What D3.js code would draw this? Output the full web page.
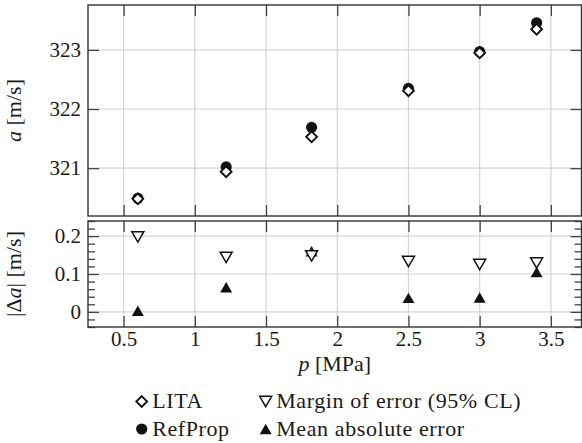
<!DOCTYPE html>
<html>
<head>
<meta charset="utf-8">
<script src="https://cdn.jsdelivr.net/npm/d3@7"></script>
</head>
<body style="margin:0">
<svg id="chart" width="582" height="443" style="font-family:'Liberation Serif'"></svg>
<script>
// values
var pressure = [0.6, 1.22, 1.82, 2.5, 3.0, 3.4];
var lita = [320.48, 320.94, 321.53, 322.31, 322.95, 323.35];
var refprop = [320.49, 321.02, 321.69, 322.35, 322.97, 323.46];
var marginErr = [0.198, 0.144, 0.148, 0.133, 0.125, 0.129];
var meanAbsErr = [0.003, 0.065, 0.16, 0.037, 0.038, 0.105];
var xTicks = [0.5, 1, 1.5, 2, 2.5, 3, 3.5];
var xTickLabels = ["0.5", "1", "1.5", "2", "2.5", "3", "3.5"];
var topTicks = [321, 322, 323];
var bottomTicks = [0, 0.1, 0.2];
var bottomTickLabels = ["0", "0.1", "0.2"];
var bottomMinor = [-0.04, -0.02, 0.02, 0.04, 0.06, 0.08, 0.12, 0.14, 0.16, 0.18, 0.22, 0.24];
var legendLabels = ["LITA", "Margin of error (95% CL)", "RefProp", "Mean absolute error"];

var FONT = "font-family:'Liberation Serif';";
var left = 88, right = 581.5,
    topY0 = 5, topY1 = 216,
    botY0 = 221, botY1 = 327;

var svg = d3.select("#chart");

var x = d3.scaleLinear().domain([0.25, 3.715]).range([left, right]);
var yTop = d3.scaleLinear().domain([320.19, 323.76]).range([topY1, topY0]);
var yBot = d3.scaleLinear().domain([-0.04, 0.24]).range([botY1, botY0]);

function styleAxis(g) {
    g.attr("font-family", null).attr("font-size", null);
    g.select(".domain").remove();
    g.selectAll(".tick line").attr("stroke", "#444").attr("stroke-width", 1.3);
    g.selectAll(".tick text")
        .attr("style", FONT + "font-size:21px")
        .attr("fill", "#1a1a1a");
}

// panel: grid, ticks, frame
function panel(y, y0, y1, yMajor, yLabels, yMinor) {
    var grid = svg.append("g").attr("stroke", "#d4d4d4").attr("stroke-width", 1.2);
    grid.selectAll(".gx").data(xTicks).enter().append("line")
        .attr("x1", function (d) { return x(d); })
        .attr("x2", function (d) { return x(d); })
        .attr("y1", y0).attr("y2", y1);
    grid.selectAll(".gy").data(yMajor).enter().append("line")
        .attr("x1", left).attr("x2", right)
        .attr("y1", function (d) { return y(d); })
        .attr("y2", function (d) { return y(d); });

    svg.append("g").attr("transform", "translate(0," + y0 + ")")
        .call(d3.axisTop(x).tickValues(xTicks).tickSize(-11).tickFormat(""))
        .call(styleAxis);
    svg.append("g").attr("transform", "translate(0," + y1 + ")")
        .call(d3.axisBottom(x).tickValues(xTicks).tickSize(-11).tickFormat(""))
        .call(styleAxis);
    svg.append("g").attr("transform", "translate(" + left + ",0)")
        .call(d3.axisLeft(y).tickValues(yMajor).tickSize(-11).tickPadding(7)
            .tickFormat(function (d, i) { return yLabels[i]; }))
        .call(styleAxis);
    svg.append("g").attr("transform", "translate(" + right + ",0)")
        .call(d3.axisRight(y).tickValues(yMajor).tickSize(-11).tickFormat(""))
        .call(styleAxis);
    if (yMinor) {
        svg.append("g").attr("transform", "translate(" + left + ",0)")
            .call(d3.axisLeft(y).tickValues(yMinor).tickSize(-7).tickFormat(""))
            .call(styleAxis);
        svg.append("g").attr("transform", "translate(" + right + ",0)")
            .call(d3.axisRight(y).tickValues(yMinor).tickSize(-7).tickFormat(""))
            .call(styleAxis);
    }
    svg.append("rect")
        .attr("x", left).attr("y", y0)
        .attr("width", right - left).attr("height", y1 - y0)
        .attr("fill", "none").attr("stroke", "#333").attr("stroke-width", 1.4);
}

panel(yTop, topY0, topY1, topTicks, topTicks.map(String), null);
panel(yBot, botY0, botY1, bottomTicks, bottomTickLabels, bottomMinor);

// x tick labels under the lower panel
svg.append("g").attr("transform", "translate(0," + botY1 + ")")
    .call(d3.axisBottom(x).tickValues(xTicks).tickSize(0).tickPadding(4)
        .tickFormat(function (d, i) { return xTickLabels[i]; }))
    .call(styleAxis);

// marker shapes
var circlePath = d3.symbol(d3.symbolCircle, Math.PI * 5.6 * 5.6)();
var diamondPath = "M0,-5.4L5.4,0L0,5.4L-5.4,0Z";
var triUp = "M0,-5.2L6,5.2L-6,5.2Z";
var triDown = "M0,5.2L6,-5.2L-6,-5.2Z";

function marks(cls, xs, ys, yScale, path, fill, sw) {
    svg.append("g").selectAll("path." + cls)
        .data(xs.map(function (d, i) { return [d, ys[i]]; }))
        .enter().append("path")
        .attr("class", cls)
        .attr("d", path)
        .attr("transform", function (d) { return "translate(" + x(d[0]) + "," + yScale(d[1]) + ")"; })
        .attr("fill", fill)
        .attr("stroke", "#111")
        .attr("stroke-width", sw)
        .attr("stroke-linejoin", "miter");
}

marks("ref", pressure, refprop, yTop, circlePath, "#111", 0);
marks("lita", pressure, lita, yTop, diamondPath, "#fff", 1.9);
marks("mae", pressure, meanAbsErr, yBot, triUp, "#111", 0);
marks("moe", pressure, marginErr, yBot, triDown, "#fff", 1.5);

function label(t) {
    return t.attr("style", FONT + "font-size:22px").attr("fill", "#1a1a1a");
}

// axis labels
svg.append("text")
    .attr("transform", "translate(21," + ((topY0 + topY1) / 2) + ") rotate(-90)")
    .attr("text-anchor", "middle")
    .call(label)
    .call(function (t) {
        t.append("tspan").attr("font-style", "italic").text("a");
        t.append("tspan").text(" [m/s]");
    });
svg.append("text")
    .attr("transform", "translate(21," + ((botY0 + botY1) / 2) + ") rotate(-90)")
    .attr("text-anchor", "middle")
    .call(label)
    .call(function (t) {
        t.append("tspan").text("|\u0394");
        t.append("tspan").attr("font-style", "italic").text("a");
        t.append("tspan").text("| [m/s]");
    });
svg.append("text")
    .attr("x", (left + right) / 2).attr("y", 371)
    .attr("text-anchor", "middle")
    .call(label)
    .call(function (t) {
        t.append("tspan").attr("font-style", "italic").text("p");
        t.append("tspan").text(" [MPa]");
    });

// legend
var legend = [
    { label: legendLabels[0], path: diamondPath, fill: "#fff", sw: 1.9, mx: 141.7, my: 401.5 },
    { label: legendLabels[1], path: triDown, fill: "#fff", sw: 1.5, mx: 265.7, my: 401.5 },
    { label: legendLabels[2], path: circlePath, fill: "#111", sw: 0, mx: 141.7, my: 429 },
    { label: legendLabels[3], path: triUp, fill: "#111", sw: 0, mx: 265.7, my: 429 }
];
var lg = svg.append("g").selectAll("g").data(legend).enter().append("g");
lg.append("path")
    .attr("d", function (d) { return d.path; })
    .attr("transform", function (d) { return "translate(" + d.mx + "," + d.my + ")"; })
    .attr("fill", function (d) { return d.fill; })
    .attr("stroke", "#111")
    .attr("stroke-width", function (d) { return d.sw; });
lg.append("text")
    .attr("x", function (d) { return d.mx + 10.5; })
    .attr("y", function (d) { return d.my + 6.5; })
    .call(label)
    .attr("letter-spacing", 0.6)
    .text(function (d) { return d.label; });
</script>
</body>
</html>
